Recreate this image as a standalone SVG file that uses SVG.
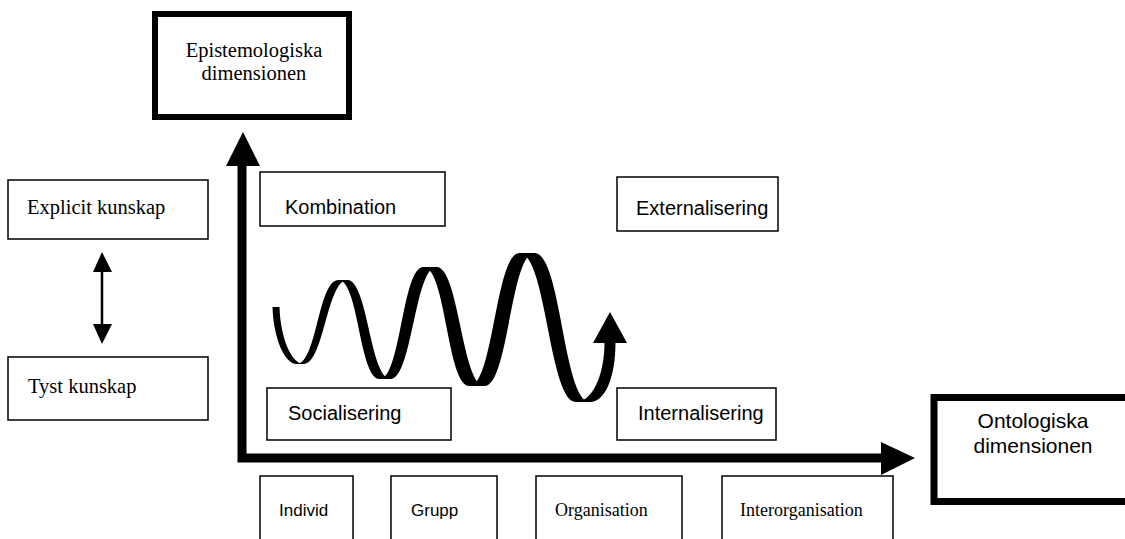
<svg xmlns="http://www.w3.org/2000/svg" width="1125" height="539" viewBox="0 0 1125 539">
  <style>
    .box { fill: #fff; stroke: #000; stroke-width: 1.5; }
    .heavy { fill: #fff; stroke: #000; }
    .serif { font-family: "Liberation Serif", "Times New Roman", serif; fill: #000; }
    .sans { font-family: "Liberation Sans", Arial, sans-serif; fill: #000; }
    .ink { fill: #000; stroke: none; }
  </style>

  <!-- dimension headings -->
  <g id="epistemologiska">
    <rect class="heavy" stroke-width="6" x="155" y="14" width="194" height="103"/>
    <text class="serif" font-size="20.5" text-anchor="middle" x="254" y="57">Epistemologiska</text>
    <text class="serif" font-size="20.5" text-anchor="middle" x="254" y="80">dimensionen</text>
  </g>
  <g id="ontologiska">
    <rect class="heavy" stroke-width="7" x="934" y="397.5" width="210" height="104"/>
    <text class="sans" font-size="21" text-anchor="middle" x="1033" y="428">Ontologiska</text>
    <text class="sans" font-size="21" text-anchor="middle" x="1033" y="453">dimensionen</text>
  </g>

  <!-- knowledge types -->
  <g id="explicit">
    <rect class="box" x="8" y="180" width="200" height="59"/>
    <text class="serif" font-size="20.5" x="27" y="214">Explicit kunskap</text>
  </g>
  <g id="tyst">
    <rect class="box" x="8" y="357" width="200" height="63"/>
    <text class="serif" font-size="20.5" x="28" y="393">Tyst kunskap</text>
  </g>

  <!-- conversion modes -->
  <g id="kombination">
    <rect class="box" x="260" y="172" width="185" height="54"/>
    <text class="sans" font-size="20" x="285" y="214">Kombination</text>
  </g>
  <g id="externalisering">
    <rect class="box" x="617" y="177" width="161" height="54"/>
    <text class="sans" font-size="20" x="636" y="215">Externalisering</text>
  </g>
  <g id="socialisering">
    <rect class="box" x="267" y="388" width="184" height="52"/>
    <text class="sans" font-size="20" x="288" y="420">Socialisering</text>
  </g>
  <g id="internalisering">
    <rect class="box" x="617" y="388" width="159" height="52"/>
    <text class="sans" font-size="20" x="638" y="420">Internalisering</text>
  </g>

  <!-- ontological levels -->
  <g id="individ">
    <rect class="box" x="260" y="476" width="93" height="70"/>
    <text class="sans" font-size="17" x="279" y="516">Individ</text>
  </g>
  <g id="grupp">
    <rect class="box" x="391" y="476" width="106" height="70"/>
    <text class="sans" font-size="17" x="411" y="516">Grupp</text>
  </g>
  <g id="organisation">
    <rect class="box" x="536" y="476" width="146" height="70"/>
    <text class="serif" font-size="18" x="555" y="516">Organisation</text>
  </g>
  <g id="interorganisation">
    <rect class="box" x="722" y="476" width="171" height="70"/>
    <text class="serif" font-size="18" x="740" y="516">Interorganisation</text>
  </g>

  <g id="connectors">
    <!-- axes -->
    <path d="M242,166 L242,458 L881,458" fill="none" stroke="#000" stroke-width="9" stroke-linejoin="miter"/>
    <polygon class="ink" points="243,132 260,166 226,166"/>
    <polygon class="ink" points="915,458 881,442 881,475"/>

    <!-- explicit / tacit double arrow -->
    <line x1="102" y1="270" x2="102" y2="326" stroke="#000" stroke-width="2.5"/>
    <polygon class="ink" points="102,252 112,272 93,272"/>
    <polygon class="ink" points="102,344 112,324 93,324"/>

    <!-- knowledge spiral: widening ribbon, one half-wave per piece -->
    <g id="spiral" class="ink">
      <path d="M279.5,307 C280.5,340 292.5,364 303.5,364 L296.5,364 C285.5,364 273.5,340 272.5,307 Z"/>
      <path d="M303.5,364 C324.1,364 326.9,280 347.5,280 L338.5,280 C317.9,280 317.1,364 296.5,364 Z"/>
      <path d="M347.5,280 C367.7,280 370.3,379 390.5,379 L379.5,379 C359.3,379 358.7,280 338.5,280 Z"/>
      <path d="M390.5,379 C412.1,379 414.9,267 436.5,267 L423.5,267 C401.9,267 401.1,379 379.5,379 Z"/>
      <path d="M436.5,267 C459.1,267 461.9,386 484.5,386 L469.5,386 C446.9,386 446.1,267 423.5,267 Z"/>
      <path d="M484.5,386 C508.5,386 510.5,253 534.5,253 L519.5,253 C495.5,253 493.5,386 469.5,386 Z"/>
      <path d="M534.5,253 C561.4,253 563.1,402 590,402 L576,402 C549.1,402 546.4,253 519.5,253 Z"/>
      <path d="M590,402 C605,402 615.5,378 615.5,342 L604.5,342 C604.5,378 591,402 576,402 Z"/>
      <polygon points="610,312 627,343 593,343"/>
    </g>
  </g>
</svg>
